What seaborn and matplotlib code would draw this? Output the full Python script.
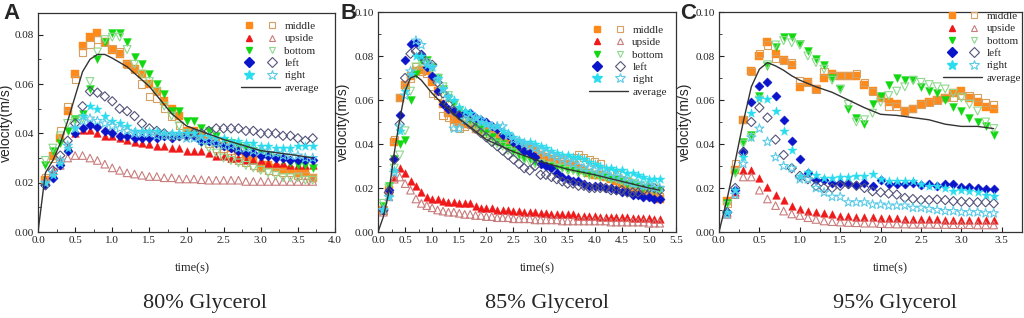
import numpy as np
import pandas as pd
import matplotlib
matplotlib.use("Agg")
import matplotlib.pyplot as plt
from matplotlib.lines import Line2D
from matplotlib.legend_handler import HandlerTuple
from matplotlib.ticker import MultipleLocator, FormatStrFormatter
import seaborn as sns

sns.set_style("ticks")
plt.rcParams['font.family'] = ['Liberation Serif', 'DejaVu Serif']

# ---------------- data ----------------
series_names = ["middle", "upside", "bottom", "left", "right"]
panel_titles = ["80% Glycerol", "85% Glycerol", "95% Glycerol"]
panel_letters = ["A", "B", "C"]

tA = np.round(np.arange(1, 38) * 0.1, 1)
A_middle_f = [.021,.031,.038,.049,.064,.0755,.079,.0805,.077,.074, .072,.068,.066,.064,.060,.057,.053,.050,.047,.041, .041,.039,.037,.036,.035,.034,.033,.031,.029,.026, .027,.026,.025,.025,.024,.024,.022]
A_middle_o = [.022,.030,.041,.051,.062,.073,.076,.078,.077,.0745, .073,.068,.066,.060,.055,.054,.050,.047,.043,.040, .040,.038,.036,.034,.031,.030,.029,.028,.027,.026, .025,.0245,.024,.024,.023,.023,.022]
A_upside_f = [.021,.025,.029,.035,.040,.0415,.0415,.040,.039,.039, .038,.0375,.0365,.036,.0355,.035,.035,.034,.034,.033, .033,.033,.032,.031,.031,.030,.030,.029,.029,.029, .028,.028,.028,.027,.027,.027,.027]
A_upside_o = [.020,.024,.027,.030,.031,.031,.030,.029,.0275,.026, .025,.024,.0235,.023,.0225,.0225,.022,.022,.0215,.0215, .0215,.0212,.021,.021,.021,.021,.021,.0205,.0205,.0205, .0205,.0205,.0205,.0205,.0205,.0205,.0205]
A_bottom_f = [.027,.033,.036,.041,.046,.048,.058,.070,.077,.0805, .0805,.077,.071,.068,.064,.060,.056,.049,.049,.045, .045,.042,.041,.039,.037,.036,.035,.034,.033,.032, .031,.030,.029,.028,.027,.027,.026]
A_bottom_o = [.029,.034,.039,.044,.045,.046,.061,.073,.078,.079, .079,.074,.068,.064,.061,.057,.051,.047,.043,.040, .039,.036,.034,.032,.030,.029,.028,.027,.026,.025, .024,.023,.022,.022,.022,.021,.021]
A_left_f = [.019,.022,.027,.033,.040,.042,.0435,.0425,.041,.040, .039,.039,.038,.038,.038,.038,.039,.038,.039,.039, .039,.037,.037,.036,.035,.034,.033,.032,.032,.031, .031,.030,.030,.029,.029,.029,.029]
A_left_o = [.019,.025,.031,.037,.044,.051,.057,.0565,.055,.053, .050,.049,.047,.044,.042,.041,.040,.039,.039,.039, .040,.040,.041,.042,.042,.042,.042,.041,.041,.040, .040,.040,.039,.039,.038,.037,.038]
A_right_f = [.020,.023,.028,.034,.042,.047,.051,.050,.047,.045, .044,.043,.041,.041,.041,.041,.040,.040,.040,.040, .040,.039,.039,.038,.038,.037,.037,.036,.036,.035, .035,.034,.034,.034,.035,.035,.035]
A_right_o = [.020,.024,.029,.035,.042,.045,.046,.045,.044,.043, .042,.041,.040,.040,.040,.039,.039,.039,.039,.038, .038,.037,.037,.036,.035,.035,.034,.034,.033,.033, .032,.032,.031,.031,.031,.030,.030]
A_avg_t = [0,.1,.2,.3,.4,.5,.6,.7,.8,.9,1.0,1.2,1.5,1.8,2.0,2.5,3.0,3.5,3.7]
A_avg_v = [0,.024,.029,.036,.045,.055,.065,.070,.072,.072,.0705,.067,.059,.048,.043,.0375,.033,.031,.030]

tB = np.round(np.arange(1, 53) * 0.1, 1)
B_middle_f = [.010,.019,.041,.061,.067,.071,.073,.0735,.073,.068, .064,.058,.054,.051,.050,.049,.049,.047,.046,.046, .044,.043,.042,.041,.040,.039,.038,.038,.037,.035, .034,.033,.032,.031,.031,.030,.029,.028,.027,.026, .026,.025,.024,.023,.022,.021,.020,.019,.018,.017, .016,.015]
B_middle_o = [.010,.018,.042,.061,.066,.070,.075,.073,.072,.063, .062,.053,.052,.048,.047,.048,.049,.047,.046,.045, .044,.043,.042,.041,.040,.039,.038,.037,.036,.035, .034,.033,.033,.032,.033,.034,.035,.034,.033,.032, .031,.028,.027,.026,.024,.023,.021,.020,.019,.018, .017,.016]
B_upside_f = [.010,.018,.025,.029,.027,.023,.021,.018,.016,.015, .015,.014,.0135,.0135,.013,.013,.013,.012,.011,.011, .011,.010,.010,.010,.0095,.0095,.009,.009,.009,.0085, .0085,.008,.008,.008,.008,.008,.0075,.0075,.0075,.0075, .007,.007,.007,.007,.007,.007,.0065,.0065,.0065,.0065, .006,.006]
B_upside_o = [.009,.016,.024,.025,.022,.019,.015,.013,.012,.011, .010,.0095,.009,.009,.0085,.008,.008,.0075,.0075,.007, .007,.0065,.0065,.0065,.006,.006,.006,.006,.0055,.0055, .0055,.0055,.0055,.005,.005,.005,.005,.005,.005,.005, .005,.005,.0045,.0045,.0045,.0045,.0045,.0045,.0045,.004, .004,.004]
B_bottom_f = [.012,.021,.033,.040,.042,.060,.072,.078,.078,.075, .070,.065,.061,.058,.055,.053,.051,.049,.047,.045, .043,.041,.040,.038,.037,.035,.033,.033,.032,.031, .030,.030,.029,.029,.028,.028,.027,.027,.026,.026, .025,.025,.024,.024,.023,.022,.022,.021,.020,.020, .019,.019]
B_bottom_o = [.013,.020,.029,.035,.046,.064,.075,.077,.077,.074, .070,.066,.062,.058,.055,.052,.050,.048,.045,.043, .041,.040,.039,.037,.036,.034,.033,.032,.031,.031, .030,.030,.029,.029,.028,.028,.027,.027,.026,.026, .025,.025,.024,.024,.023,.023,.022,.021,.021,.020, .020,.019]
B_left_f = [.010,.019,.033,.053,.078,.0855,.086,.081,.075,.071, .064,.058,.056,.055,.053,.054,.054,.052,.051,.050, .048,.047,.044,.044,.041,.039,.037,.036,.034,.031, .030,.029,.027,.025,.024,.023,.023,.022,.021,.021, .021,.020,.020,.019,.018,.018,.017,.017,.016,.016, .015,.015]
B_left_o = [.010,.018,.033,.049,.070,.081,.082,.080,.077,.076, .068,.063,.058,.055,.053,.051,.049,.047,.045,.043, .041,.039,.037,.035,.033,.031,.029,.028,.030,.026, .026,.025,.024,.023,.022,.022,.021,.021,.020,.020, .020,.020,.019,.019,.019,.018,.018,.018,.019,.020, .020,.019]
B_right_f = [.010,.016,.028,.046,.064,.072,.080,.080,.076,.075, .070,.065,.062,.060,.057,.055,.054,.052,.050,.049, .048,.048,.046,.045,.043,.042,.041,.041,.040,.039, .038,.037,.036,.035,.035,.034,.034,.033,.032,.031, .030,.029,.029,.028,.028,.027,.027,.026,.025,.024, .024,.024]
B_right_o = [.010,.016,.027,.048,.062,.073,.087,.085,.077,.075, .069,.065,.061,.047,.047,.051,.052,.052,.051,.049, .048,.048,.048,.044,.042,.041,.040,.039,.038,.037, .036,.035,.034,.033,.032,.031,.030,.029,.029,.028, .027,.026,.025,.025,.024,.023,.022,.022,.021,.021, .020,.020]
B_avg_t = [0,.1,.2,.3,.4,.5,.6,.7,.8,.9,1.0,1.2,1.5,2.0,2.5,3.0,3.5,4.0,4.5,5.0,5.2]
B_avg_v = [0,.007,.018,.036,.051,.064,.070,.071,.069,.066,.063,.058,.0515,.042,.0365,.032,.0285,.026,.023,.020,.019]

tC = np.round(np.arange(1, 35) * 0.1, 1)
C_middle_f = [.014,.028,.051,.073,.080,.0865,.081,.078,.076,.066, .068,.065,.070,.072,.071,.071,.071,.067,.064,.061, .059,.058,.055,.056,.058,.059,.060,.061,.063,.064, .061,.059,.057,.056]
C_middle_o = [.013,.031,.051,.073,.081,.085,.079,.078,.077,.069, .068,.065,.073,.071,.071,.071,.072,.068,.064,.061, .057,.057,.055,.056,.058,.059,.060,.061,.061,.062, .062,.061,.059,.058]
C_upside_f = [.009,.018,.028,.028,.0245,.0205,.017,.0145,.012,.0105, .0095,.009,.0085,.008,.0075,.0075,.007,.0068,.0066,.0065, .0063,.0062,.006,.006,.006,.0058,.0057,.0056,.0055,.0055, .0054,.0054,.0053,.0053]
C_upside_o = [.008,.017,.025,.025,.019,.015,.012,.0095,.0082,.0075, .0065,.0057,.005,.0047,.0045,.0043,.0042,.004,.004,.0038, .0037,.0036,.0036,.0035,.0035,.0035,.0034,.0034,.0033,.0033, .0033,.0032,.0032,.0032]
C_bottom_f = [.013,.027,.041,.044,.062,.0755,.084,.0885,.0885,.0855, .0825,.0785,.076,.070,.065,.056,.052,.049,.058,.062, .067,.070,.069,.069,.066,.064,.063,.060,.057,.055, .052,.050,.048,.044]
C_bottom_o = [.012,.027,.040,.043,.060,.076,.085,.087,.086,.085, .080,.077,.074,.069,.065,.058,.050,.051,.054,.059, .062,.064,.066,.069,.068,.067,.066,.065,.063,.061, .058,.055,.050,.047]
C_left_f = [.009,.019,.037,.059,.0665,.068,.062,.051,.0415,.033, .027,.0235,.0235,.0225,.0225,.022,.0215,.0225,.021,.0235, .022,.022,.022,.0225,.0215,.022,.021,.022,.0218,.0205, .0205,.020,.0195,.0195]
C_left_o = [.009,.020,.036,.050,.0565,.052,.042,.035,.029,.0255, .024,.021,.020,.020,.021,.022,.021,.020,.0185,.018, .0175,.017,.0155,.015,.0145,.0145,.0148,.0145,.014,.0138, .0135,.0135,.0135,.013]
C_right_f = [.009,.019,.034,.054,.061,.0605,.055,.046,.0375,.0255, .0275,.026,.0245,.0245,.025,.025,.0255,.0255,.0265,.024, .023,.023,.023,.023,.022,.021,.021,.020,.0185,.019, .0185,.018,.017,.0165]
C_right_o = [.008,.017,.031,.043,.047,.041,.034,.030,.029,.024, .024,.020,.018,.016,.016,.0135,.0135,.0135,.0125,.0125, .012,.012,.012,.011,.011,.0105,.010,.0095,.0095,.009, .009,.009,.0085,.0085]
C_avg_t = [0,.1,.2,.3,.4,.5,.6,.7,.8,.9,1.0,1.2,1.4,1.6,1.8,2.0,2.2,2.4,2.6,2.8,3.0,3.2,3.4]
C_avg_v = [0,.015,.032,.050,.066,.074,.077,.0755,.0735,.071,.069,.066,.0635,.060,.0565,.0535,.053,.052,.051,.049,.048,.048,.047]

# ---------------- styling ----------------
filled_colors = {"middle": "#FF8A1C", "upside": "#F01818", "bottom": "#12D812",
                 "left": "#0A14C8", "right": "#2ADDEE"}
open_colors = {"middle": "#D8A060", "upside": "#C87C7C", "bottom": "#8ED88E",
               "left": "#54547A", "right": "#5CCBE6"}
markers = {"middle": "s", "upside": "^", "bottom": "v", "left": "D", "right": "*"}
sizes = {"middle": 26, "upside": 30, "bottom": 32, "left": 22, "right": 48}

panels = [
    dict(t=tA, data={"middle": (A_middle_f, A_middle_o), "upside": (A_upside_f, A_upside_o),
                     "bottom": (A_bottom_f, A_bottom_o), "left": (A_left_f, A_left_o),
                     "right": (A_right_f, A_right_o)},
         avg=(A_avg_t, A_avg_v), xlim=(0, 4.0), ylim=(0, 0.0888),
         rect=[38/1024, 86/318, 297/1024, 219/318], leg=(0.684, 0.962),
         ylab_x=-0.084, xlab_x=0.52, text_x=205/1024, letter_x=3/1024),
    dict(t=tB, data={"middle": (B_middle_f, B_middle_o), "upside": (B_upside_f, B_upside_o),
                     "bottom": (B_bottom_f, B_bottom_o), "left": (B_left_f, B_left_o),
                     "right": (B_right_f, B_right_o)},
         avg=(B_avg_t, B_avg_v), xlim=(0, 5.5), ylim=(0, 0.10),
         rect=[378/1024, 86/318, 298/1024, 220/318], leg=(0.708, 0.94),
         ylab_x=-0.094, xlab_x=0.534, text_x=547/1024, letter_x=340/1024),
    dict(t=tC, data={"middle": (C_middle_f, C_middle_o), "upside": (C_upside_f, C_upside_o),
                     "bottom": (C_bottom_f, C_bottom_o), "left": (C_left_f, C_left_o),
                     "right": (C_right_f, C_right_o)},
         avg=(C_avg_t, C_avg_v), xlim=(0, 3.75), ylim=(0, 0.10),
         rect=[719/1024, 86/318, 303/1024, 220/318], leg=(0.740, 1.003),
         ylab_x=-0.089, xlab_x=0.564, text_x=895/1024, letter_x=680/1024),
]

fig = plt.figure(figsize=(10.24, 3.18), dpi=100)

for i, p in enumerate(panels):
    ax = fig.add_axes(p["rect"])
    for name in series_names:
        f_vals, o_vals = p["data"][name]
        df = pd.DataFrame({"time": p["t"], "filled": f_vals, "open": o_vals})
        sns.scatterplot(data=df, x="time", y="filled", ax=ax, marker=markers[name],
                        s=sizes[name], color=filled_colors[name],
                        edgecolor=filled_colors[name], linewidth=0.3, legend=False, zorder=3)
        sns.scatterplot(data=df, x="time", y="open", ax=ax, marker=markers[name],
                        s=sizes[name], color=open_colors[name], facecolor="none",
                        edgecolor=open_colors[name], linewidth=0.8, legend=False, zorder=3)
    avg_df = pd.DataFrame({"time": p["avg"][0], "v": p["avg"][1]})
    sns.lineplot(data=avg_df, x="time", y="v", ax=ax, color="#333333", linewidth=1.0,
                 sort=False, legend=False, zorder=4)

    ax.set_xlim(*p["xlim"])
    ax.set_ylim(*p["ylim"])
    ax.xaxis.set_major_locator(MultipleLocator(0.5))
    ax.xaxis.set_minor_locator(MultipleLocator(0.25))
    ax.yaxis.set_major_locator(MultipleLocator(0.02))
    ax.yaxis.set_minor_locator(MultipleLocator(0.01))
    ax.xaxis.set_major_formatter(FormatStrFormatter("%.1f"))
    ax.yaxis.set_major_formatter(FormatStrFormatter("%.2f"))
    ax.tick_params(axis="both", which="major", direction="in", length=3.5, width=0.8,
                   labelsize=8, pad=3, colors="#222222")
    ax.tick_params(axis="both", which="minor", direction="in", length=2, width=0.6)
    for lab in ax.get_xticklabels() + ax.get_yticklabels():
        lab.set_family("Liberation Serif")
    for sp in ax.spines.values():
        sp.set_visible(True)
        sp.set_linewidth(0.9)
        sp.set_color("#333333")

    ax.set_ylabel("velocity(m/s)", fontsize=10, family="Liberation Sans")
    ax.yaxis.set_label_coords(p["ylab_x"], 0.5)
    ax.set_xlabel("time(s)", fontsize=9, family="Liberation Serif")
    ax.xaxis.set_label_coords(p["xlab_x"], -0.137)

    # legend
    handles, labels = [], []
    for name in series_names:
        ms = 7 if name == "right" else 5
        hf = Line2D([], [], linestyle="none", marker=markers[name], markersize=ms,
                    color=filled_colors[name], markeredgecolor=filled_colors[name])
        ho = Line2D([], [], linestyle="none", marker=markers[name], markersize=ms,
                    color=open_colors[name], markerfacecolor="none", markeredgecolor=open_colors[name],
                    markeredgewidth=0.8)
        handles.append((hf, ho))
        labels.append(name)
    handles.append(Line2D([], [], color="#333333", linewidth=1.0))
    labels.append("average")
    ax.legend(handles, labels, handler_map={tuple: HandlerTuple(ndivide=None, pad=0.5)},
              loc="upper left", bbox_to_anchor=p["leg"], frameon=False, borderpad=0,
              borderaxespad=0, handlelength=3.5, handletextpad=0.4,
              labelspacing=0.23, prop={"family": "Liberation Serif", "size": 8})

    fig.text(p["text_x"], 0.047, panel_titles[i], ha="center", va="center",
             fontsize=16, family="Liberation Serif")
    fig.text(p["letter_x"], 0.99, panel_letters[i], ha="left", va="top",
             fontsize=16, fontweight="bold", family="Liberation Sans")

fig.savefig("out.png", dpi=100)
